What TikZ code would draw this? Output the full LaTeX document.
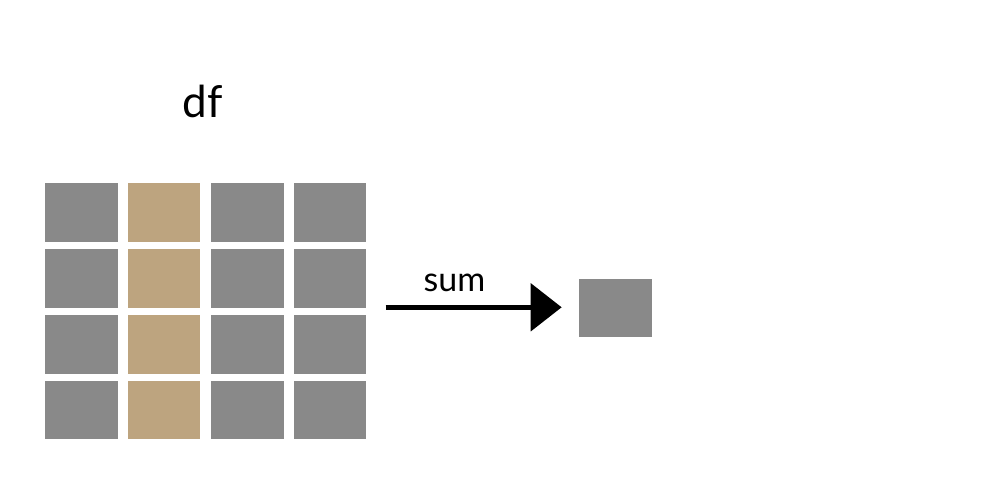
\documentclass[tikz,border=0pt]{standalone}
\usepackage{fontspec}
\setmainfont{Lato}
\usetikzlibrary{arrows.meta}
\definecolor{cellgray}{RGB}{137,137,137}
\definecolor{celltan}{RGB}{189,164,127}
\tikzset{
  cell/.style={fill=cellgray, draw=none, minimum width=72.5pt, minimum height=58.3pt, inner sep=0pt, anchor=north west},
  tancell/.style={cell, fill=celltan},
  lbl/.style={anchor=base, inner sep=0pt, text=black},
  bigarrow/.style={line width=5.5pt, -{Triangle[length=31pt,width=47pt]}}
}
\begin{document}
\begin{tikzpicture}[x=1pt,y=1pt]
\useasboundingbox[fill=white] (0,0) rectangle (989,499);
% grid
\foreach \c/\x in {1/45,2/127.7,3/211,4/293.3}{
  \foreach \r/\y in {1/183.3,2/249,3/315,4/380.7}{
    \ifnum\c=2
      \node[tancell] (c\r\c) at (\x,499-\y) {};
    \else
      \node[cell] (c\r\c) at (\x,499-\y) {};
    \fi
  }
}
\node[lbl, font=\fontsize{44}{48}\selectfont] (df) at (202.7,499-118) {df};
\node[cell] (out) at (579,499-278.3) {};
\coordinate (arrstart) at (385.7,499-307.3);
\coordinate (arrend) at (561.7,499-307.3);
\draw[bigarrow] (arrstart) -- (arrend);
\node[lbl, font=\fontsize{34}{40}\selectfont] (sum) at (454.5,499-291.7) {sum};
\end{tikzpicture}
\end{document}
